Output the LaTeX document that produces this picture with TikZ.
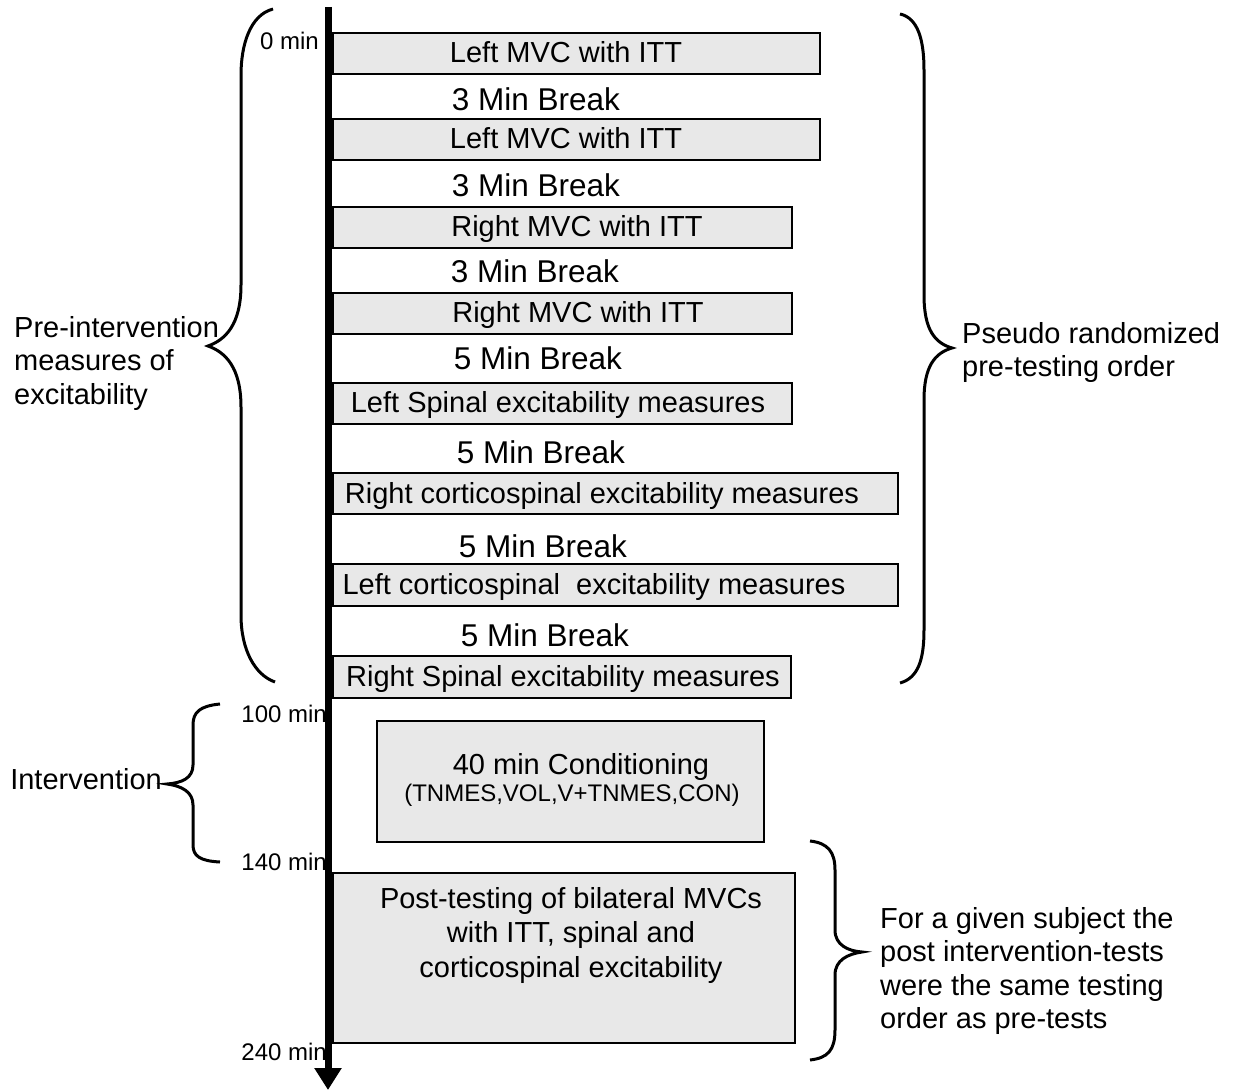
\documentclass[tikz,border=0pt]{standalone}
\usepackage{fontspec}
\setmainfont{Liberation Sans}
\usetikzlibrary{arrows.meta}
\tikzset{
    stage/.style={draw,line width=2pt,fill=black!9,inner sep=0pt,anchor=north west},
    stagetext/.style={inner sep=0pt,text height=21pt,text depth=0pt,font=\fontsize{29}{33}\selectfont},
    pause/.style={inner sep=0pt,text height=23pt,text depth=0pt,font=\fontsize{31.5}{36}\selectfont},
    timemark/.style={anchor=east,inner sep=0pt,text height=17pt,text depth=0pt,font=\fontsize{24}{28}\selectfont},
    note/.style={anchor=north west,inner sep=0pt,align=left,font=\fontsize{29}{33.5}\selectfont},
    brace/.style={line width=3pt},
}
\begin{document}
\begin{tikzpicture}[x=1pt,y=-1pt]
    \useasboundingbox (0,0) rectangle (1235,1091);
    %% Time marks
    \node[timemark] (t0) at (319,41) {0 min};
    \node[timemark] (t100) at (327,714) {100 min};
    \node[timemark] (t140) at (327,862) {140 min};
    \node[timemark] (t240) at (327,1052) {240 min};
    %% Pre-testing blocks
    \foreach \y/\w/\h/\tx/\txt [count=\i] in {
            32/487/41/566/Left MVC with ITT,
            118/487/41/566/Left MVC with ITT,
            206/459/41/577/Right MVC with ITT,
            292/459/41/578/Right MVC with ITT,
            382/459/41/558/Left Spinal excitability measures,
            472/565/41/602/Right corticospinal excitability measures,
            563/565/42/594/Left corticospinal\ \ excitability measures,
            655/458/42/563/Right Spinal excitability measures}
    {
        \node[stage,minimum width=\w pt,minimum height=\h pt] (stage\i) at (332,\y) {};
        \node[stagetext] (stagetext\i) at (\tx,\y+\h/2) {\txt};
    }
    %% Breaks
    \foreach \bx/\by/\bn [count=\i] in {536/99/3,536/185/3,535/271/3,538/358/5,
            541/452/5,543/546/5,545/635/5}
        \node[pause] (pause\i) at (\bx,\by) {\bn{} Min Break};
    %% Conditioning
    \node[stage,minimum width=387pt,minimum height=121pt] (cond) at (376,720) {};
    \node[stagetext] (condtitle) at (581,764) {40 min Conditioning};
    \node[timemark,anchor=center] (condlist) at (572,793) {(TNMES,VOL,V+TNMES,CON)};
    %% Post-testing
    \node[stage,minimum width=462pt,minimum height=170pt] (post) at (332,872) {};
    \node[note,anchor=north,align=center,font=\fontsize{29}{34.5}\selectfont] (posttext) at (571,887)
        {Post-testing of bilateral MVCs\\with ITT, spinal and\\corticospinal excitability};
    %% Time axis
    \coordinate (axistop) at (328,7);
    \coordinate (axisend) at (328,1090);
    \draw[line width=7pt,-{Triangle[width=26pt,length=22pt]}] (axistop) -- (axisend);
    %% Braces
    \draw[brace] (273,9) .. controls (250,15) and (241,45) .. (241,75) -- (241,285)
        .. controls (241,325) and (225,340) .. (208,346)
        .. controls (225,352) and (241,367) .. (241,407) -- (241,615)
        .. controls (241,650) and (255,675) .. (275,682);
    \draw[brace] (900,14) .. controls (918,18) and (924,40) .. (924,70) -- (924,295)
        .. controls (924,330) and (935,343) .. (952,348)
        .. controls (935,353) and (924,366) .. (924,400) -- (924,630)
        .. controls (924,660) and (918,678) .. (900,683);
    \draw[brace] (220,704) .. controls (200,706) and (193,712) .. (193,725) -- (193,765)
        .. controls (193,778) and (182,783) .. (167,784)
        .. controls (182,786) and (193,792) .. (193,805) -- (193,845)
        .. controls (193,856) and (200,861) .. (220,862);
    \draw[brace] (810,841) .. controls (828,843) and (835,852) .. (835,870) -- (835,930)
        .. controls (835,945) and (848,951) .. (862,952)
        .. controls (848,954) and (835,960) .. (835,975) -- (835,1030)
        .. controls (835,1050) and (828,1058) .. (810,1060);
    %% Side notes
    \node[note] (prenote) at (14,316) {Pre-intervention\\measures of\\excitability};
    \node[note] (ordernote) at (962,322) {Pseudo randomized\\pre-testing order};
    \node[note] (postnote) at (880,907)
        {For a given subject the\\post intervention-tests\\were the same testing\\order as pre-tests};
    \node[note,anchor=east] (intnote) at (162,779) {Intervention};
\end{tikzpicture}
\end{document}
